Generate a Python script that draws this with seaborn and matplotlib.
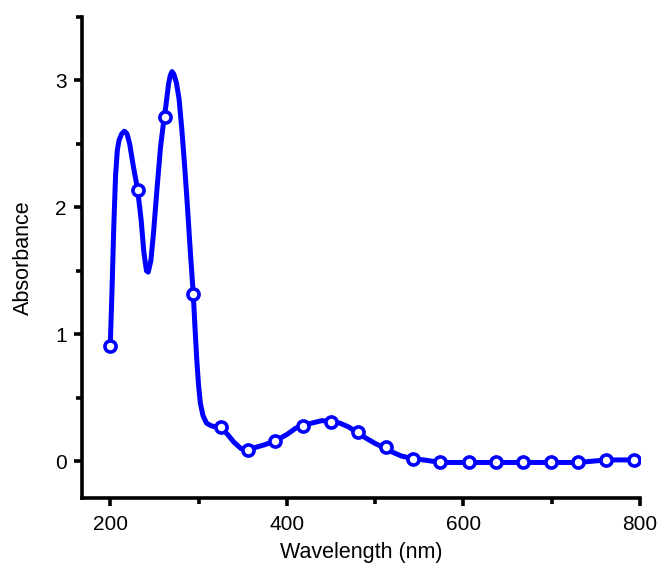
import matplotlib
matplotlib.use("Agg")
import matplotlib.pyplot as plt
import seaborn as sns
import pandas as pd
from matplotlib.ticker import MultipleLocator

# smooth curve
curve_wl = [200, 202, 204, 206, 208, 210, 213, 216, 219, 222, 226, 231, 235, 238, 241, 243,
            246, 249, 253, 257, 260, 263, 266, 268, 270, 272, 275, 278, 281, 284, 287, 291,
            294, 296, 298, 300, 302, 305, 309, 314, 319, 325, 333, 340, 348, 356, 365, 375,
            387, 400, 410, 418, 428, 440, 450, 460, 470, 481, 490, 500, 512, 520, 530, 543,
            555, 574, 606, 637, 668, 699, 730, 762, 793, 800]
curve_abs = [0.91, 1.35, 1.85, 2.25, 2.45, 2.53, 2.58, 2.60, 2.58, 2.50, 2.33, 2.14, 1.90, 1.65, 1.50, 1.49,
             1.58, 1.80, 2.15, 2.48, 2.65, 2.80, 2.97, 3.04, 3.07, 3.05, 2.98, 2.85, 2.62, 2.35, 2.05, 1.62,
             1.32, 1.05, 0.80, 0.60, 0.46, 0.36, 0.30, 0.28, 0.27, 0.27, 0.21, 0.15, 0.10, 0.09, 0.11, 0.13,
             0.16, 0.21, 0.26, 0.28, 0.30, 0.32, 0.31, 0.30, 0.27, 0.22, 0.18, 0.14, 0.10, 0.07, 0.04, 0.02,
             0.01, -0.01, -0.01, -0.01, -0.01, -0.01, -0.01, 0.01, 0.01, 0.01]

# measured points (markers)
point_wl = [200, 231, 262, 294, 325, 356, 387, 418, 450, 481, 512, 543, 574, 606, 637,
            668, 699, 730, 762, 793]
point_abs = [0.91, 2.14, 2.71, 1.32, 0.27, 0.09, 0.16, 0.28, 0.31, 0.23, 0.11, 0.02, -0.01, -0.01, -0.01,
             -0.01, -0.01, -0.01, 0.01, 0.01]

x_ticks = [200, 400, 600, 800]
y_ticks = [0, 1, 2, 3]

sns.set_theme(style="ticks")
plt.rcParams['font.family'] = ['Liberation Sans', 'DejaVu Sans']
plt.rcParams['text.color'] = 'black'
plt.rcParams['axes.labelcolor'] = 'black'
plt.rcParams['xtick.color'] = 'black'
plt.rcParams['ytick.color'] = 'black'

curve = pd.DataFrame({"wl": curve_wl, "abs": curve_abs})
pts = pd.DataFrame({"wl": point_wl, "abs": point_abs})

fig = plt.figure(figsize=(6.62, 5.70), dpi=100)
ax = fig.add_axes([82/662, 1-498/570, (640-82)/662, (498-17)/570])

blue = "#0000ff"
sns.lineplot(data=curve, x="wl", y="abs", ax=ax, color=blue, linewidth=3.6,
             sort=False, estimator=None)
ax.plot(pts["wl"], pts["abs"], linestyle="none", marker="o", markersize=8,
        markerfacecolor="white", markeredgecolor=blue, markeredgewidth=2.6, zorder=5)

ax.set_xlim(168, 800)
ax.set_ylim(-0.29, 3.5)
ax.set_xticks(x_ticks)
ax.set_yticks(y_ticks)
ax.xaxis.set_minor_locator(MultipleLocator(100))
ax.yaxis.set_minor_locator(MultipleLocator(0.5))
ax.set_xlabel("Wavelength (nm)", fontsize=15.5, labelpad=6)
ax.set_ylabel("Absorbance", fontsize=15.5, labelpad=15)

for s in ["top", "right"]:
    ax.spines[s].set_visible(False)
for s in ["left", "bottom"]:
    ax.spines[s].set_linewidth(2.6)
    ax.spines[s].set_color("black")
ax.tick_params(axis="both", which="major", direction="out", length=6, width=2.6,
               labelsize=15, labelcolor="black", color="black", pad=6)
ax.tick_params(axis="both", which="minor", direction="out", length=4, width=2.6, color="black")
ax.tick_params(axis="y", which="major", pad=5)

fig.savefig("out.png", dpi=100)
